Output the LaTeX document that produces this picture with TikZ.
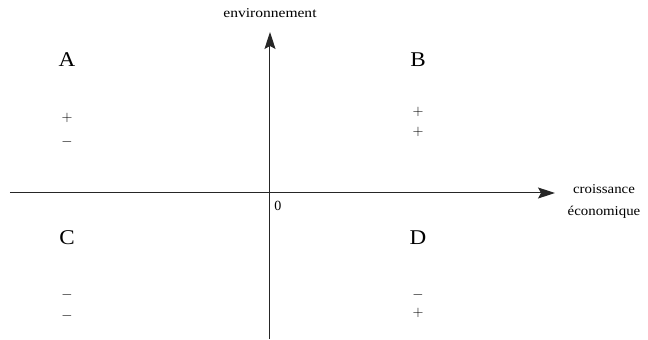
\documentclass[tikz,border=0pt]{standalone}
\usepackage{fontspec}
\setmainfont{Liberation Serif}
\usetikzlibrary{arrows.meta}

\tikzset{
  axis/.style={line width=1pt, black!85, -{Stealth[length=17pt, width=11pt, inset=3pt]}},
  quadrant/.style={font=\fontsize{21}{23}\selectfont, xscale=1.1, transform shape},
  sign/.style={font=\Large, inner sep=0pt, text=black},
  axislabel/.style={font=\fontsize{13.5}{22}\selectfont, align=center, inner sep=0pt}
}

\begin{document}
\begin{tikzpicture}[x=1pt, y=1pt]
  \useasboundingbox (-270,-147) rectangle (378,193);

  % ── Axes ────────────────────────────────────────────────────────────
  \coordinate (xstart) at (-260,0);
  \coordinate (xend)   at (285,0);
  \coordinate (ystart) at (0,-146);
  \coordinate (yend)   at (0,161);
  \draw[axis] (xstart) -- (xend);
  \draw[axis] (ystart) -- (yend);

  \node[axislabel] (envlabel) at (0,180) {\scalebox{1.15}[1]{environnement}};
  \node[axislabel] (croislabel) at (334,-8)
    {\scalebox{1.1}[1]{croissance}\\\scalebox{1.1}[1]{économique}};
  \node[font=\fontsize{14}{16}\selectfont, inner sep=0pt] (origin) at (8,-13) {0};

  % ── Quadrant letters ────────────────────────────────────────────────
  \node[quadrant] (qA) at (-203,133) {A};
  \node[quadrant] (qB) at (148,133)  {B};
  \node[quadrant] (qC) at (-203,-45) {C};
  \node[quadrant] (qD) at (148,-45)  {D};

  % ── Signs (environnement / croissance) ──────────────────────────────
  \node[sign] (signA1) at (-203,75)  {$+$};
  \node[sign] (signA2) at (-203,51)  {$-$};
  \node[sign] (signB1) at (148,81)   {$+$};
  \node[sign] (signB2) at (148,61)   {$+$};
  \node[sign] (signC1) at (-203,-102) {$-$};
  \node[sign] (signC2) at (-203,-123) {$-$};
  \node[sign] (signD1) at (148,-102) {$-$};
  \node[sign] (signD2) at (148,-120) {$+$};

\end{tikzpicture}
\end{document}
